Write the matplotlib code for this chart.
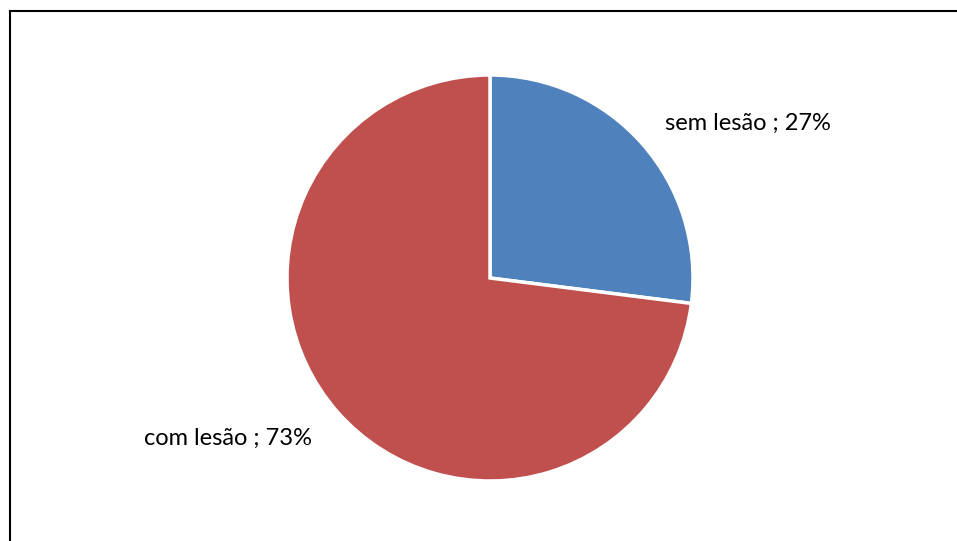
import matplotlib
matplotlib.use("Agg")
import matplotlib.pyplot as plt
from matplotlib.lines import Line2D
import numpy as np

labels = ['sem lesão', 'com lesão']
pcts = [27, 73]
colors = ['#4F81BD', '#C0504D']
# label anchors in radius units (x, y) from the pie centre
label_pos = [(1.27, 0.76), (-1.29, -0.79)]

W, H = 957, 541
cx, cy, r = 490, 278, 203

fig = plt.figure(figsize=(W / 100, H / 100), dpi=100)
ax = fig.add_axes([0, 0, 1, 1])
ax.pie(pcts, colors=colors, startangle=90, counterclock=False,
       wedgeprops=dict(edgecolor='white', linewidth=2.5))
ax.set_xlim(-cx / r, (W - cx) / r)
ax.set_ylim(-(H - cy) / r, cy / r)
ax.axis('off')

for lab, p, (lx, ly) in zip(labels, pcts, label_pos):
    ax.text(lx, ly, f'{lab} ; {p}%', ha='center', va='center',
            fontsize=17, family='Lato', color='black')

# chart area border
fig.add_artist(Line2D([10 / W, 10 / W], [0, 1 - 11 / H], transform=fig.transFigure,
                      color='black', lw=1.5))
fig.add_artist(Line2D([10 / W, 1], [1 - 11 / H, 1 - 11 / H], transform=fig.transFigure,
                      color='black', lw=1.5))

fig.savefig('out.png', dpi=100)
